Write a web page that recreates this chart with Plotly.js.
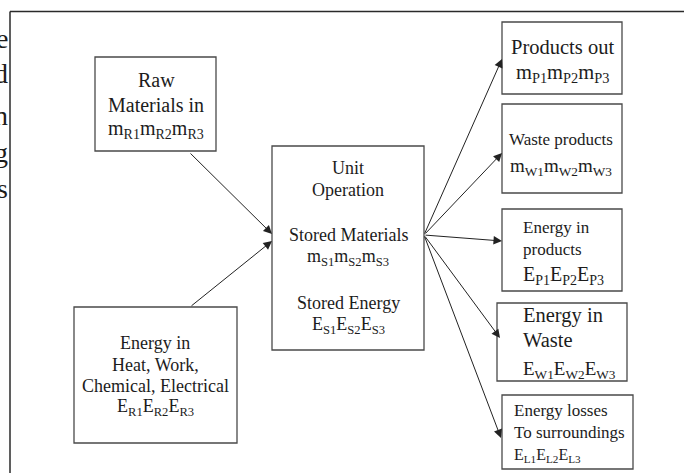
<!DOCTYPE html>
<html>
<head>
<meta charset="utf-8">
<script src="https://cdn.plot.ly/plotly-3.0.1.min.js"></script>
<style>html,body{margin:0;padding:0;background:#fff;}#chart{width:684px;height:473px;}</style>
</head>
<body>
<div id="chart"></div>
<script>
// ---- content (text of each node) ----
const nodeNames = ['raw', 'energyIn', 'unit', 'products', 'waste', 'energyProducts', 'energyWaste', 'losses'];
const rawLines = ['Raw', 'Materials in', 'm<sub>R1</sub>m<sub>R2</sub>m<sub>R3</sub>'];
const energyInLines = ['Energy in', 'Heat, Work,', 'Chemical, Electrical', 'E<sub>R1</sub>E<sub>R2</sub>E<sub>R3</sub>'];
const unitLines = ['Unit', 'Operation', 'Stored Materials', 'm<sub>S1</sub>m<sub>S2</sub>m<sub>S3</sub>', 'Stored Energy', 'E<sub>S1</sub>E<sub>S2</sub>E<sub>S3</sub>'];
const productsLines = ['Products out', 'm<sub>P1</sub>m<sub>P2</sub>m<sub>P3</sub>'];
const wasteLines = ['Waste products', 'm<sub>W1</sub>m<sub>W2</sub>m<sub>W3</sub>'];
const energyProductsLines = ['Energy in', 'products', 'E<sub>P1</sub>E<sub>P2</sub>E<sub>P3</sub>'];
const energyWasteLines = ['Energy in', 'Waste', 'E<sub>W1</sub>E<sub>W2</sub>E<sub>W3</sub>'];
const lossesLines = ['Energy losses', 'To surroundings', 'E<sub>L1</sub>E<sub>L2</sub>E<sub>L3</sub>'];
const flowFrom = ['raw', 'energyIn', 'unit', 'unit', 'unit', 'unit', 'unit'];
const flowTo = ['unit', 'unit', 'products', 'waste', 'energyProducts', 'energyWaste', 'losses'];
const marginLetters = ['e', 'd', 'n', 'g', 's'];

// ---- geometry / styling (layout only) ----
const nodeText = {raw: rawLines, energyIn: energyInLines, unit: unitLines, products: productsLines,
  waste: wasteLines, energyProducts: energyProductsLines, energyWaste: energyWasteLines, losses: lossesLines};
const boxGeom = {
  raw: {x0: 95, y0: 57, x1: 216, y1: 151},
  energyIn: {x0: 74, y0: 307, x1: 237, y1: 443},
  unit: {x0: 272, y0: 146, x1: 424, y1: 350},
  products: {x0: 502, y0: 22, x1: 622, y1: 94},
  waste: {x0: 502, y0: 104, x1: 622, y1: 193},
  energyProducts: {x0: 502, y0: 209, x1: 622, y1: 291},
  energyWaste: {x0: 497, y0: 303, x1: 627, y1: 381},
  losses: {x0: 502, y0: 395, x1: 633, y1: 469}
};
const textGeom = {
  raw: {x: 156, anchor: 'center', ys: [80, 105, 129], fs: [20, 20, 20]},
  energyIn: {x: 155, anchor: 'center', ys: [343, 365, 386, 407], fs: [18, 18, 18, 18]},
  unit: {x: 348, anchor: 'center', ys: [168, 190, 235, 257, 303, 325], fs: [18, 18, 18, 18, 18, 18]},
  products: {x: 562, anchor: 'center', ys: [47, 73], fs: [20.5, 20.5]},
  waste: {x: 561, anchor: 'center', ys: [139, 167], fs: [17, 19]},
  energyProducts: {x: 521, anchor: 'left', ys: [227, 249, 275], fs: [17, 17, 20]},
  energyWaste: {x: 521, anchor: 'left', ys: [315, 340, 370], fs: [20.5, 20.5, 19]},
  losses: {x: 512, anchor: 'left', ys: [410, 432, 455], fs: [17, 17, 16]}
};
const arrowTail = {raw: [189, 152], energyIn: [190, 307], unit: [424, 235]};
const arrowHead = {
  'raw-unit': [272, 234], 'energyIn-unit': [272, 241],
  'unit-products': [502, 59], 'unit-waste': [502, 153], 'unit-energyProducts': [502, 241],
  'unit-energyWaste': [500, 338], 'unit-losses': [501, 438]
};
const marginYs = [38, 73, 115, 152, 188];

const FONT = 'Liberation Serif, Times New Roman, serif';
const TXT = '#1c1c1c';
const shapes = [];
const annotations = [];

// outer frame
shapes.push({type: 'line', xref: 'x', yref: 'y', x0: 10, y0: 11.5, x1: 690, y1: 11.5, line: {color: '#2a2a2a', width: 1.5}});
shapes.push({type: 'line', xref: 'x', yref: 'y', x0: 10, y0: 11.5, x1: 10, y1: 480, line: {color: '#2a2a2a', width: 1.5}});

nodeNames.forEach(n => {
  const b = boxGeom[n];
  shapes.push({type: 'rect', xref: 'x', yref: 'y', x0: b.x0, y0: b.y0, x1: b.x1, y1: b.y1,
    line: {color: '#4a4a4a', width: 1.3}, fillcolor: 'rgba(0,0,0,0)'});
  const t = textGeom[n];
  nodeText[n].forEach((line, i) => {
    annotations.push({x: t.x, y: t.ys[i], xref: 'x', yref: 'y', text: line, showarrow: false,
      xanchor: t.anchor, yanchor: 'middle', font: {family: FONT, size: t.fs[i], color: TXT}});
  });
});

flowFrom.forEach((f, i) => {
  const to = flowTo[i];
  const tail = arrowTail[f];
  const head = arrowHead[f + '-' + to];
  annotations.push({x: head[0], y: head[1], ax: tail[0], ay: tail[1], xref: 'x', yref: 'y', axref: 'x', ayref: 'y',
    text: '', showarrow: true, arrowhead: 2, arrowsize: 1.7, arrowwidth: 1, arrowcolor: '#222', standoff: 0});
});

marginLetters.forEach((l, i) => {
  annotations.push({x: 9, y: marginYs[i], xref: 'x', yref: 'y', text: l, showarrow: false,
    xanchor: 'right', yanchor: 'middle', borderpad: 0, font: {family: FONT, size: 28, color: TXT}});
});

const layout = {
  width: 684, height: 473,
  margin: {l: 0, r: 0, t: 0, b: 0},
  paper_bgcolor: '#fff', plot_bgcolor: '#fff',
  xaxis: {range: [0, 684], visible: false, fixedrange: true},
  yaxis: {range: [473, 0], visible: false, fixedrange: true},
  showlegend: false,
  shapes: shapes,
  annotations: annotations
};
Plotly.newPlot('chart', [], layout, {staticPlot: true, displayModeBar: false});
</script>
</body>
</html>
